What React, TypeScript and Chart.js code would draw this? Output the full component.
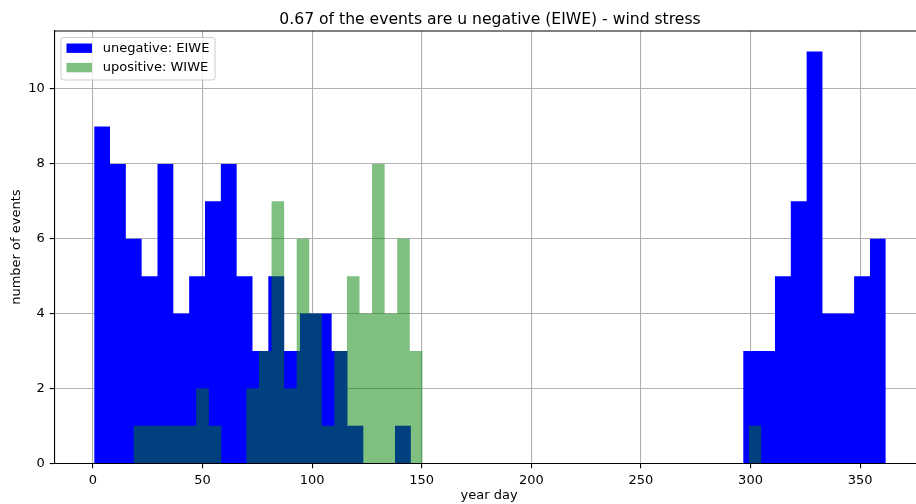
import React, { useEffect, useRef } from "react";
import { Chart, registerables } from "chart.js";

Chart.register(...registerables);

const TITLE = "0.67 of the events are u negative (EIWE) - wind stress";
const X_LABEL = "year day";
const Y_LABEL = "number of events";
const NEG_NAME = "unegative: EIWE";
const POS_NAME = "upositive: WIWE";

// histogram bin ranges (first edge, last edge), 50 bins each
const NEG_RANGE = [0.6, 361.7];
const POS_RANGE = [18.5, 305.0];

const NEG_COUNTS = [
  9, 8, 6, 5, 8, 4, 5, 7, 8, 5,
  3, 5, 3, 4, 4, 3, 1, 0, 0, 1,
  0, 0, 0, 0, 0, 0, 0, 0, 0, 0,
  0, 0, 0, 0, 0, 0, 0, 0, 0, 0,
  0, 3, 3, 5, 7, 11, 4, 4, 5, 6,
];
const POS_COUNTS = [
  1, 1, 1, 1, 1, 2, 1, 0, 0, 2,
  3, 7, 2, 6, 4, 1, 3, 5, 4, 8,
  4, 6, 3, 0, 0, 0, 0, 0, 0, 0,
  0, 0, 0, 0, 0, 0, 0, 0, 0, 0,
  0, 0, 0, 0, 0, 0, 0, 0, 0, 1,
];

const X_TICKS = [0, 50, 100, 150, 200, 250, 300, 350];
const Y_TICKS = [0, 2, 4, 6, 8, 10];

const NEG_COLOR = "#0000ff";
const POS_COLOR = "rgba(0,128,0,0.5)";
const FONT = "DejaVu Sans";
const LABEL_SIZE = 13;
const TITLE_SIZE = 15.6;

function histPoints(range: number[], counts: number[]) {
  const n = counts.length;
  const w = (range[1] - range[0]) / n;
  const pts: { x: number; y: number }[] = [{ x: range[0], y: 0 }];
  counts.forEach((c, i) => pts.push({ x: range[0] + i * w, y: c }));
  pts.push({ x: range[1], y: 0 });
  return pts;
}

const decorPlugin = {
  id: "decor",
  afterDraw(chart: any) {
    const { ctx, chartArea } = chart;
    ctx.save();
    // top spine
    ctx.strokeStyle = "#000";
    ctx.lineWidth = 1.1;
    ctx.beginPath();
    ctx.moveTo(chartArea.left, chartArea.top);
    ctx.lineTo(chartArea.right, chartArea.top);
    ctx.stroke();

    // legend (matplotlib style, upper left)
    const bx = 61, by = 37.5, bw = 154, bh = 42.5, r = 2.8;
    ctx.beginPath();
    ctx.moveTo(bx + r, by);
    ctx.lineTo(bx + bw - r, by);
    ctx.arcTo(bx + bw, by, bx + bw, by + r, r);
    ctx.lineTo(bx + bw, by + bh - r);
    ctx.arcTo(bx + bw, by + bh, bx + bw - r, by + bh, r);
    ctx.lineTo(bx + r, by + bh);
    ctx.arcTo(bx, by + bh, bx, by + bh - r, r);
    ctx.lineTo(bx, by + r);
    ctx.arcTo(bx, by, bx + r, by, r);
    ctx.closePath();
    ctx.fillStyle = "rgba(255,255,255,0.8)";
    ctx.fill();
    ctx.strokeStyle = "#cccccc";
    ctx.lineWidth = 1;
    ctx.stroke();

    const items = [
      { label: NEG_NAME, color: NEG_COLOR, y: 48.2 },
      { label: POS_NAME, color: POS_COLOR, y: 67.6 },
    ];
    ctx.font = `${LABEL_SIZE}px "${FONT}"`;
    ctx.textBaseline = "middle";
    ctx.textAlign = "left";
    items.forEach((it) => {
      ctx.fillStyle = it.color;
      ctx.fillRect(66.5, it.y - 4.7, 25.5, 9.4);
      ctx.fillStyle = "#000";
      ctx.fillText(it.label, 102.7, it.y + 0.5);
    });
    ctx.restore();
  },
};

export default function App() {
  const ref = useRef<HTMLCanvasElement | null>(null);

  useEffect(() => {
    document.body.style.margin = "0";
    if (!ref.current) return;
    const chart = new Chart(ref.current, {
      type: "line",
      data: {
        datasets: [
          {
            label: POS_NAME,
            data: histPoints(POS_RANGE, POS_COUNTS),
            stepped: "before",
            fill: "origin",
            backgroundColor: POS_COLOR,
            borderColor: "rgba(0,0,0,0)",
            borderWidth: 0,
            pointRadius: 0,
          },
          {
            label: NEG_NAME,
            data: histPoints(NEG_RANGE, NEG_COUNTS),
            stepped: "before",
            fill: "origin",
            backgroundColor: NEG_COLOR,
            borderColor: "rgba(0,0,0,0)",
            borderWidth: 0,
            pointRadius: 0,
          },
        ],
      },
      options: {
        animation: false,
        responsive: false,
        devicePixelRatio: 1,
        layout: { padding: 0 },
        plugins: {
          legend: { display: false },
          tooltip: { enabled: false },
          title: {
            display: true,
            text: TITLE,
            color: "#000",
            font: { family: FONT, size: TITLE_SIZE, weight: "normal", lineHeight: 1.2 },
            padding: { top: 10.2, bottom: 2.1 },
          },
        },
        scales: {
          x: {
            type: "linear",
            min: -17.4,
            max: 378.9,
            z: 1,
            afterBuildTicks: (s: any) => {
              s.ticks = X_TICKS.map((v) => ({ value: v }));
            },
            afterFit: (s: any) => {
              s.height = 40.7;
            },
            ticks: {
              color: "#000",
              font: { family: FONT, size: LABEL_SIZE },
              padding: 4.1,
              maxRotation: 0,
              autoSkip: false,
            },
            grid: {
              color: "#b0b0b0",
              lineWidth: 1.1,
              tickLength: 5,
              tickColor: "#000",
              tickWidth: 1.1,
            },
            border: { color: "#000", width: 1.1 },
            title: {
              display: true,
              text: X_LABEL,
              color: "#000",
              font: { family: FONT, size: LABEL_SIZE, lineHeight: 1.2 },
              padding: { top: 0, bottom: 0.2 },
            },
          },
          y: {
            type: "linear",
            min: 0,
            max: 11.55,
            z: 1,
            afterBuildTicks: (s: any) => {
              s.ticks = Y_TICKS.map((v) => ({ value: v }));
            },
            afterFit: (s: any) => {
              s.width = 54.7;
            },
            ticks: {
              color: "#000",
              font: { family: FONT, size: LABEL_SIZE },
              padding: 4.9,
            },
            grid: {
              color: "#b0b0b0",
              lineWidth: 1.1,
              tickLength: 5,
              tickColor: "#000",
              tickWidth: 1.1,
            },
            border: { color: "#000", width: 1.1 },
            title: {
              display: true,
              text: Y_LABEL,
              color: "#000",
              font: { family: FONT, size: LABEL_SIZE, lineHeight: 1.2 },
              padding: { top: 8.4, bottom: 0 },
            },
          },
          // empty spacer on the right: the axes box runs past the picture's right edge
          spacer: {
            type: "linear",
            position: "right",
            min: 0,
            max: 1,
            grid: { display: false, drawTicks: false },
            ticks: { display: false },
            border: { display: false },
            title: { display: false },
            afterFit: (s: any) => {
              s.width = 56.5;
            },
          },
        },
      },
      plugins: [decorPlugin],
    } as any);
    return () => chart.destroy();
  }, []);

  return (
    <div style={{ width: 916, height: 504, overflow: "hidden" }}>
      <canvas ref={ref} width={980} height={504} style={{ display: "block" }} />
    </div>
  );
}
